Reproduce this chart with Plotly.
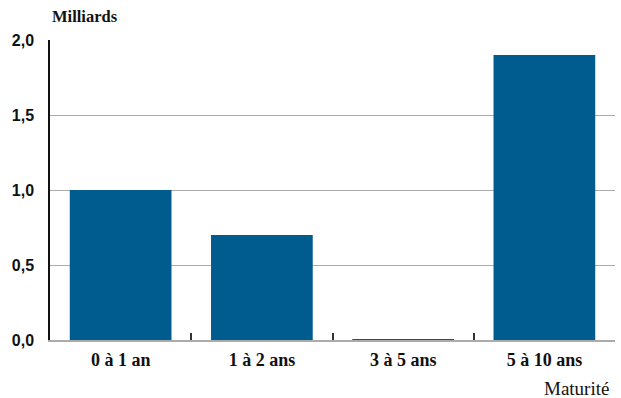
import plotly.graph_objects as go

# Encours par tranche de maturité (en milliards)
maturites = ["0 à 1 an", "1 à 2 ans", "3 à 5 ans", "5 à 10 ans"]
montants = [1.0, 0.7, 0.005, 1.9]
y_ticks = [0, 0.5, 1.0, 1.5, 2.0]

BAR_COLOR = "#005b8e"
GRID_COLOR = "#ababab"

fig = go.Figure(
    go.Bar(
        x=maturites,
        y=montants,
        marker=dict(color=BAR_COLOR, line=dict(width=0)),
        width=0.72,
    )
)

fig.update_layout(
    width=621,
    height=398,
    margin=dict(l=50, r=6, t=40, b=58),
    paper_bgcolor="white",
    plot_bgcolor="white",
    separators=", ",
    showlegend=False,
)

fig.update_xaxes(
    tickson="boundaries",
    ticks="inside",
    ticklen=7,
    tickwidth=2,
    tickcolor="#333333",
    showline=True,
    linecolor=GRID_COLOR,
    linewidth=2,
    showgrid=False,
    ticklabelstandoff=2,
    tickfont=dict(family="Liberation Serif", size=18, color="#111111", weight="bold"),
)

fig.update_yaxes(
    range=[0, 2.0],
    tickvals=y_ticks,
    tickformat=".1f",
    showgrid=True,
    gridcolor=GRID_COLOR,
    gridwidth=1.3,
    showline=True,
    linecolor="#111111",
    linewidth=1.5,
    zeroline=False,
    ticks="",
    ticklabelstandoff=11,
    tickfont=dict(family="Liberation Sans", size=16, color="#111111", weight="bold"),
)

fig.add_annotation(
    text="<b>Milliards</b>",
    xref="paper", yref="paper",
    x=0, y=1, yshift=24,
    xanchor="left", yanchor="middle",
    showarrow=False,
    font=dict(family="Liberation Serif", size=16.5, color="#111111"),
)

fig.add_annotation(
    text="Maturité",
    xref="paper", yref="paper",
    x=1, y=0, xshift=-4, yshift=-48,
    xanchor="right", yanchor="middle",
    showarrow=False,
    font=dict(family="Liberation Serif", size=19, color="#111111"),
)

fig.write_html("out.html")
